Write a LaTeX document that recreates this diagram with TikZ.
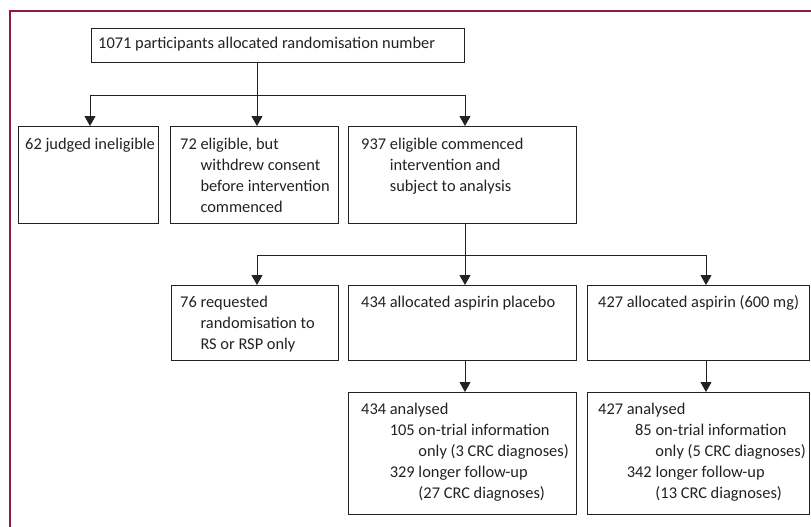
\documentclass[tikz,border=0pt]{standalone}
\usepackage{fontspec}
\setmainfont{Carlito}
\usetikzlibrary{arrows.meta}
\definecolor{framec}{HTML}{8C1C45}
\definecolor{inkc}{HTML}{222222}
\newcommand{\hg}[1]{\hphantom{#1}\ }
\begin{document}
\begin{tikzpicture}[x=1pt,y=-1pt,
  box/.style={draw=inkc, line width=1.1pt, inner sep=0pt, anchor=north west},
  txt/.style={anchor=north west, inner sep=0pt, align=left, text=inkc,
              font=\fontsize{16.4}{21}\selectfont},
  ln/.style={draw=inkc, line width=1pt},
  arr/.style={ln, -{Triangle[width=11pt,length=10pt]}},
  frame/.style={draw=framec, line width=1.3pt}]
\useasboundingbox (0,0) rectangle (811,527);
\draw[frame] (10,527) -- (10,11) -- (811,11);

% boxes
\node[box, minimum width=373pt, minimum height=34pt] (top) at (91,28) {};
\node[box, minimum width=140pt, minimum height=97pt] (b1) at (18,126) {};
\node[box, minimum width=168pt, minimum height=97pt] (b2) at (170,126) {};
\node[box, minimum width=228pt, minimum height=97pt] (b3) at (348,126) {};
\node[box, minimum width=167pt, minimum height=75pt] (c1) at (171,285) {};
\node[box, minimum width=228pt, minimum height=75pt] (c2) at (348,285) {};
\node[box, minimum width=222pt, minimum height=75pt] (c3) at (587,285) {};
\node[box, minimum width=228pt, minimum height=122pt] (d1) at (348,392) {};
\node[box, minimum width=222pt, minimum height=122pt] (d2) at (587,392) {};

% texts
\node[txt] (ttop) at ([shift={(7,6)}]top.north west) {\strut 1071 participants allocated randomisation number};
\node[txt] (tb1) at ([shift={(7,9)}]b1.north west) {\strut 62 judged ineligible};
\node[txt] (tb2) at ([shift={(10,9)}]b2.north west) {\strut 72 eligible, but\\\hg{72}withdrew consent\\\hg{72}before intervention\\\hg{72}commenced};
\node[txt] (tb3) at ([shift={(13,9)}]b3.north west) {\strut 937 eligible commenced\\\hg{937}intervention and\\\hg{937}subject to analysis};
\node[txt] (tc1) at ([shift={(9,8)}]c1.north west) {\strut 76 requested\\\hg{76}randomisation to\\\hg{76}RS or RSP only};
\node[txt] (tc2) at ([shift={(13,8)}]c2.north west) {\strut 434 allocated aspirin placebo};
\node[txt] (tc3) at ([shift={(11,8)}]c3.north west) {\strut 427 allocated aspirin (600 mg)};
\node[txt] (td1) at ([shift={(13,8)}]d1.north west) {\strut 434 analysed\\\hg{434}105 on-trial information\\\hg{434}\hg{105}only (3 CRC diagnoses)\\\hg{434}329 longer follow-up\\\hg{434}\hg{329}(27 CRC diagnoses)};
\node[txt] (td2) at ([shift={(11,8)}]d2.north west) {\strut 427 analysed\\\hg{427}\hphantom{3}85 on-trial information\\\hg{427}\hg{342}only (5 CRC diagnoses)\\\hg{427}342 longer follow-up\\\hg{427}\hg{342}(13 CRC diagnoses)};

% connectors
\coordinate (s1) at (257,95);
\coordinate (h1) at (90,95);
\coordinate (h2) at (465,95);
\draw[ln] (top.south -| s1) -- (s1);
\draw[ln] (h1) -- (h2);
\draw[arr] (h1) -- (h1 |- b1.north);
\draw[arr] (s1) -- (s1 |- b2.north);
\draw[arr] (h2) -- (h2 |- b3.north);

\coordinate (s2) at (465,255);
\coordinate (h3) at (257,255);
\coordinate (h4) at (706,255);
\draw[ln] (b3.south -| s2) -- (s2);
\draw[ln] (h3) -- (h4);
\draw[arr] (h3) -- (h3 |- c1.north);
\draw[arr] (s2) -- (s2 |- c2.north);
\draw[arr] (h4) -- (h4 |- c3.north);

\draw[arr] (c2.south -| s2) -- (d1.north -| s2);
\draw[arr] (c3.south -| h4) -- (d2.north -| h4);
\end{tikzpicture}
\end{document}
